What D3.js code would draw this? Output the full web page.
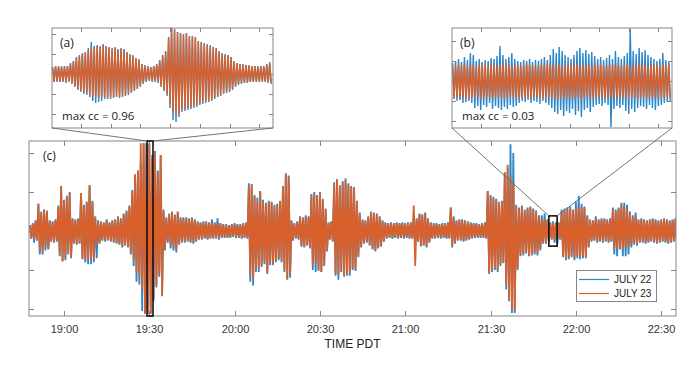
<!DOCTYPE html>
<html><head><meta charset="utf-8">
<script src="https://cdn.jsdelivr.net/npm/d3@7"></script>
<style>body{margin:0;background:#fff}svg{display:block}</style>
</head><body>
<svg id="chart" width="700" height="368"></svg>
<script>
// ---------- DATA ----------
// Main panel (c): one sample per minute, starting 18:48 PDT; peak amplitude above / below zero
const mainStartMinute = 48; // minutes after 18:00
const seriesNames = ["JULY 22", "JULY 23"];
const timeTicks = ["19:00","19:30","20:00","20:30","21:00","21:30","22:00","22:30"];
const ampTicks = [-80, -40, 0, 40, 80];

const july23Top = [6,7,10,28,18,22,20,10,9,11, 25,46,30,35,39,12,11,12,39,25, 30,47,30,14,10,9,8,11,8,10,
 11,14,12,17,20,25,40,58,62,90, 90,90,90,75,80,60,78,20,13,17, 19,16,19,13,12,13,12,13,11,9,
 8,9,9,8,8,8,8,7,6,6, 5,6,7,6,6,7,8,45,48,35, 30,40,30,27,30,29,25,27,30,45,
 59,55,10,7,9,14,13,15,14,36, 39,35,39,32,22,8,9,48,53,45, 50,52,48,45,44,30,18,11,10,14,
 19,18,17,14,10,8,7,8,7,8, 7,8,7,8,8,26,12,17,16,18, 12,8,7,7,6,7,7,8,24,14,
 10,11,11,10,9,8,7,7,6,7, 8,41,35,33,32,28,30,60,68,55, 50,25,22,25,20,23,24,22,20,14,
 13,12,11,8,8,8,8,20,21,22, 24,20,24,25,24,24,15,11,10,14, 11,12,12,11,12,22,20,23,26,25,
 22,18,14,16,11,12,11,10,11,12, 11,10,11,12,11,10,11,12];
const july23Bottom = [7,8,9,20,22,16,18,10,11,10, 24,31,28,22,26,12,13,12,28,30, 28,31,28,14,12,9,10,9,10,11,
 12,13,16,14,16,22,30,42,48,60, 85,85,85,70,55,45,66,18,10,14, 17,19,13,11,11,10,11,12,10,8,
 8,7,8,7,7,7,7,6,6,6, 6,5,6,6,7,6,7,45,50,40, 38,35,32,42,33,34,30,28,30,40,
 49,45,9,7,8,15,16,14,17,36, 33,40,42,35,20,8,10,44,45,40, 46,45,42,38,40,25,16,12,11,14,
 18,20,17,15,10,7,6,7,6,7, 6,7,6,7,7,36,10,15,14,16, 11,7,7,6,7,6,7,7,16,12,
 9,9,10,9,8,7,6,6,6,6, 7,42,40,38,40,34,32,55,70,80, 82,38,24,24,22,25,24,22,23,18,
 12,12,10,8,9,8,8,25,29,27, 25,28,26,27,26,27,16,10,9,11, 10,11,10,11,10,18,19,17,19,18,
 16,15,12,13,11,11,12,11,10,11, 12,11,10,11,12,11,10,11];
const july22Top = [6,8,11,28,20,22,21,11,10,12, 26,46,32,36,40,13,12,13,39,27, 30,47,31,15,11,10,9,12,9,11,
 12,15,13,18,21,26,42,58,62,70, 90,90,90,78,82,62,78,22,14,18, 20,17,20,14,14,14,13,14,12,10,
 9,10,10,9,12,9,13,8,7,7, 6,7,8,7,7,8,9,49,48,37, 34,41,32,29,31,30,27,28,31,46,
 59,57,11,8,10,15,14,16,15,38, 40,37,40,33,23,9,10,50,53,47, 51,54,49,46,45,31,19,12,11,15,
 20,19,18,15,11,9,8,9,8,9, 8,9,8,9,9,9,13,18,17,19, 13,9,8,8,7,8,8,9,24,15,
 11,12,12,11,10,9,8,8,7,8, 9,41,37,35,33,30,31,60,65,89, 80,27,24,26,22,24,25,23,21,16,
 16,18,12,9,10,9,9,22,23,24, 25,22,30,36,28,25,16,12,11,15, 12,13,13,12,13,24,22,24,29,29,
 27,20,16,19,12,13,12,11,12,13, 12,11,12,13,12,11,12,13];
const july22Bottom = [8,12,10,24,24,20,19,11,12,11, 26,31,30,24,28,13,14,13,29,32, 34,34,32,28,13,10,11,10,11,12,
 13,14,17,15,17,24,36,52,55,82, 85,85,85,72,58,47,67,20,12,18, 20,22,14,12,12,11,12,13,11,9,
 9,8,9,8,8,8,9,7,7,7, 7,6,7,7,8,7,8,52,56,42, 42,37,34,44,35,35,32,30,32,42,
 50,48,10,8,9,16,17,15,18,40, 42,41,42,36,21,9,11,46,50,42, 47,46,46,40,41,27,17,13,12,15,
 19,21,18,16,11,8,7,8,7,8, 7,8,7,8,8,8,11,16,15,17, 12,8,8,7,8,7,8,8,17,13,
 10,10,11,10,9,8,7,7,7,7, 8,44,42,40,42,36,33,60,72,84, 84,40,26,25,23,26,25,24,25,20,
 13,13,11,9,12,13,9,27,30,29, 27,30,28,29,28,28,17,11,10,12, 11,12,11,12,11,24,26,19,26,26,
 24,17,14,15,12,12,13,12,11,12, 13,12,11,12,13,12,11,12];

// Zoom windows marked on panel (c) (minutes after 18:00, amplitude half-height)
const zoomA = {t0: 89.2, t1: 91.3, amp: null};
const zoomB = {t0: 230.5, t1: 233.4, amp: 15.5};

// Inset (a): 2-s samples, max cc = 0.96
const insetTicks = [20,40,60,80,100,120,140];
const insetAmpTicks = [-40,-20,0,20,40];
const a22Top = [7,8,8,7,8,8, 11,13,17,19,21,22, 26,32,28,29,28,30,28, 27,26,27,25,26,25, 22,20,19,16,15,
 10,9,8,7,8,10, 14,19,23, 37,47,45,42, 41,40,41,38,38,37, 33,32,31,30,29,27,26, 23,21,20,19,17,
 13,11,10,10,9,9,8, 8,8,8,8,10,12];
const a22Bottom = [8,8,8,8,9,8, 10,13,16,18,20,21, 23,27,29,28,27,25,25, 25,24,23,24,23,22, 21,19,17,15,13,
 10,8,7,8,8,9, 13,17,22, 34,46,48,43, 38,37,36,35,34,33, 31,30,29,28,27,25,23, 22,20,19,18,16,
 13,11,10,9,9,8,8, 8,8,8,8,9,10];
const a23Top = [7,8,7,8,7,8, 10,13,16,18,20,22, 24,26,27,28,27,29,28, 26,25,26,24,25,24, 21,19,18,16,14,
 10,8,7,7,8,9, 13,18,22, 36,46,44,42, 40,39,41,37,38,36, 33,32,30,29,28,27,26, 22,20,19,18,17,
 12,11,10,9,9,8,8, 8,7,8,7,9,10];
const a23Bottom = [8,7,8,7,8,7, 9,12,15,17,18,19, 21,22,23,24,23,24,24, 23,23,22,23,22,21, 20,18,16,15,12,
 9,7,6,7,7,8, 12,16,20, 30,38,42,40, 36,35,34,33,32,31, 30,28,27,27,26,24,22, 21,19,18,17,15,
 12,10,9,9,8,8,8, 7,8,7,8,8,9];

// Inset (b): 2-s samples, max cc = 0.03
const b22Top = [18,20,22,19,24,21, 28,26,20,22,19,21,20,23,22,25,35,26,22,24,28,22,20,19,21,20,22,19,21,20,
 22,24,21,26,32,28,34,30,26,24,22,26,30,33,28,31,27,29,25,22,24,21,23,26,22,30,24,22,25,28,
 52,30,27,33,29,31,26,24,22,20,22,28,21,20];
const b22Bottom = [18,20,19,22,21,20, 22,27,25,29,24,26,22,28,25,27,29,26,28,24,26,25,22,20,21,19,22,20,21,23,
 20,22,24,27,31,33,29,35,30,32,28,34,30,36,29,27,31,26,24,23,25,22,24,46,28,25,27,24,30,33,
 28,31,27,25,26,28,24,27,29,25,24,22,21,20];
const b23Top = [16,15,17,16,18,15,16,17,15,16,18,16,15,17,16,15,17,16,18,16,15,16,17,15,16,18,17,16,15,16,
 17,16,18,17,16,15,17,16,15,16,18,16,17,15,16,17,16,15,18,16,17,16,15,16,17,16,18,15,16,17,
 16,15,16,18,17,16,15,16,17,16,15,17,16,16];
const b23Bottom = [17,16,18,16,17,18,16,17,16,18,17,16,17,18,16,17,16,18,17,16,17,16,18,17,16,17,18,16,17,16,
 18,17,16,18,17,19,16,18,17,16,18,17,16,18,17,16,17,18,16,17,16,18,17,16,17,18,16,17,16,18,
 17,16,18,17,16,17,18,16,17,16,18,17,16,17];

const labels = {a: "(a)", b: "(b)", c: "(c)", ccA: "max cc = 0.96", ccB: "max cc = 0.03", xTitle: "TIME PDT"};
const colors = ["#2a86cb", "#d8602c"];

// ---------- DRAW ----------
const svg = d3.select("#chart");
const frameColor = "#858585";
const base = new Date(2021, 6, 22, 18, 0, 0);
const toDate = m => new Date(base.getTime() + m * 60000);

// main panel geometry
const M = {l: 29, r: 676, t: 141, b: 316};
const x = d3.scaleTime().domain([toDate(47.7), toDate(275.2)]).range([M.l, M.r]);
const y = d3.scaleLinear().domain([-87.2, 92.3]).range([M.b, M.t]);

const defs = svg.append("defs");
function clip(id, l, t, w, h) {
  defs.append("clipPath").attr("id", id).append("rect").attr("x", l).attr("y", t).attr("width", w).attr("height", h);
}
clip("cm", M.l, M.t, M.r - M.l, M.b - M.t);

function zigPath(tops, bots, xs, ys, start, step) {
  const pts = [];
  tops.forEach((v, i) => {
    pts.push([xs(start + i * step), ys(v)]);
    pts.push([xs(start + i * step + step / 2), ys(-bots[i])]);
  });
  return d3.line()(pts);
}

const gm = svg.append("g");
const xm = m => x(toDate(m));
const mainSeries = [[july22Top, july22Bottom], [july23Top, july23Bottom]];
mainSeries.forEach((s, k) => {
  gm.append("path").attr("clip-path", "url(#cm)")
    .attr("d", zigPath(s[0], s[1], xm, y, mainStartMinute, 1))
    .attr("fill", "none").attr("stroke", colors[k]).attr("stroke-width", 1.8).attr("stroke-linejoin", "miter");
});

// frame and ticks
gm.append("rect").attr("x", M.l).attr("y", M.t).attr("width", M.r - M.l).attr("height", M.b - M.t)
  .attr("fill", "none").attr("stroke", frameColor).attr("stroke-width", 1);
const parseT = d3.timeParse("%H:%M");
timeTicks.forEach(s => {
  const p = parseT(s);
  const d = new Date(2021, 6, 22, p.getHours(), p.getMinutes());
  const xx = Math.round(x(d)) + 0.5;
  gm.append("line").attr("x1", xx).attr("x2", xx).attr("y1", M.b).attr("y2", M.b - 5).attr("stroke", frameColor);
  gm.append("line").attr("x1", xx).attr("x2", xx).attr("y1", M.t).attr("y2", M.t + 5).attr("stroke", frameColor);
  gm.append("text").attr("x", xx).attr("y", M.b + 17).attr("text-anchor", "middle")
    .attr("font-family", "Liberation Sans, Arial, sans-serif").attr("font-size", 11).attr("fill", "#333").text(s);
});
ampTicks.forEach(v => {
  const yy = Math.round(y(v)) + 0.5;
  gm.append("line").attr("x1", M.l).attr("x2", M.l + 5).attr("y1", yy).attr("y2", yy).attr("stroke", frameColor);
  gm.append("line").attr("x1", M.r).attr("x2", M.r - 5).attr("y1", yy).attr("y2", yy).attr("stroke", frameColor);
});
gm.append("text").attr("x", (M.l + M.r) / 2).attr("y", M.b + 32).attr("text-anchor", "middle")
  .attr("font-family", "Liberation Sans, Arial, sans-serif").attr("font-size", 12).attr("fill", "#222").text(labels.xTitle);
gm.append("text").attr("x", 43).attr("y", 160).attr("font-family", "Open Sans, sans-serif").attr("font-size", 12).attr("fill", "#222").text(labels.c);

// zoom boxes
const boxA = {x0: xm(zoomA.t0), x1: xm(zoomA.t1), y0: M.t, y1: M.b};
const boxB = {x0: xm(zoomB.t0), x1: xm(zoomB.t1), y0: y(zoomB.amp), y1: y(-zoomB.amp)};
[boxA, boxB].forEach(b => {
  gm.append("rect").attr("x", b.x0).attr("y", b.y0).attr("width", b.x1 - b.x0).attr("height", b.y1 - b.y0)
    .attr("fill", "none").attr("stroke", "#111").attr("stroke-width", 1.6);
});

// legend
const lg = svg.append("g");
lg.append("rect").attr("x", 576.5).attr("y", 270.5).attr("width", 80).attr("height", 31).attr("fill", "#fff").attr("stroke", frameColor);
seriesNames.forEach((n, k) => {
  const yy = 279.5 + k * 14;
  lg.append("line").attr("x1", 579).attr("x2", 609).attr("y1", yy).attr("y2", yy).attr("stroke", colors[k]).attr("stroke-width", 1.2);
  lg.append("text").attr("x", 614).attr("y", yy + 3.8).attr("font-family", "Liberation Sans, Arial, sans-serif")
    .attr("font-size", 10).attr("fill", "#222").text(n);
});

// insets
function inset(id, L, R, T, B, centerY, series, lab, cc, box) {
  const g = svg.append("g");
  const xs = d3.scaleLinear().domain([0.6, 149.2]).range([L, R]);
  const ys = d3.scaleLinear().domain([-50, 50]).range([centerY + 50, centerY - 50]);
  clip(id, L, T, R - L, B - T);
  series.forEach((s, k) => {
    g.append("path").attr("clip-path", `url(#${id})`).attr("d", zigPath(s[0], s[1], xs, ys, 1, 2))
      .attr("fill", "none").attr("stroke", colors[k]).attr("stroke-width", 1.4);
  });
  g.append("rect").attr("x", L).attr("y", T).attr("width", R - L).attr("height", B - T)
    .attr("fill", "none").attr("stroke", frameColor);
  insetTicks.forEach(v => {
    const xx = Math.round(xs(v)) + 0.5;
    g.append("line").attr("x1", xx).attr("x2", xx).attr("y1", B).attr("y2", B - 4).attr("stroke", frameColor);
    g.append("line").attr("x1", xx).attr("x2", xx).attr("y1", T).attr("y2", T + 4).attr("stroke", frameColor);
  });
  insetAmpTicks.forEach(v => {
    const yy = Math.round(ys(v)) + 0.5;
    g.append("line").attr("x1", L).attr("x2", L + 4).attr("y1", yy).attr("y2", yy).attr("stroke", frameColor);
    g.append("line").attr("x1", R).attr("x2", R - 4).attr("y1", yy).attr("y2", yy).attr("stroke", frameColor);
  });
  g.append("text").attr("x", L + 8).attr("y", T + 19).attr("font-family", "Open Sans, sans-serif").attr("font-size", 12).attr("fill", "#222").text(lab);
  g.append("text").attr("x", L + 10).attr("y", B - 8).attr("font-family", "Open Sans, sans-serif").attr("font-size", 11.5).attr("fill", "#222").text(cc);
  // connector lines
  g.append("line").attr("x1", L).attr("y1", B).attr("x2", box.x0).attr("y2", box.y0).attr("stroke", "#666").attr("stroke-width", 0.9);
  g.append("line").attr("x1", R).attr("y1", B).attr("x2", box.x1).attr("y2", box.y0).attr("stroke", "#666").attr("stroke-width", 0.9);
}
inset("ca", 52, 273, 28, 128, 74, [[a22Top, a22Bottom], [a23Top, a23Bottom]], labels.a, labels.ccA, boxA);
inset("cb", 452, 672, 28, 128, 81, [[b22Top, b22Bottom], [b23Top, b23Bottom]], labels.b, labels.ccB, boxB);
</script>
</body></html>
